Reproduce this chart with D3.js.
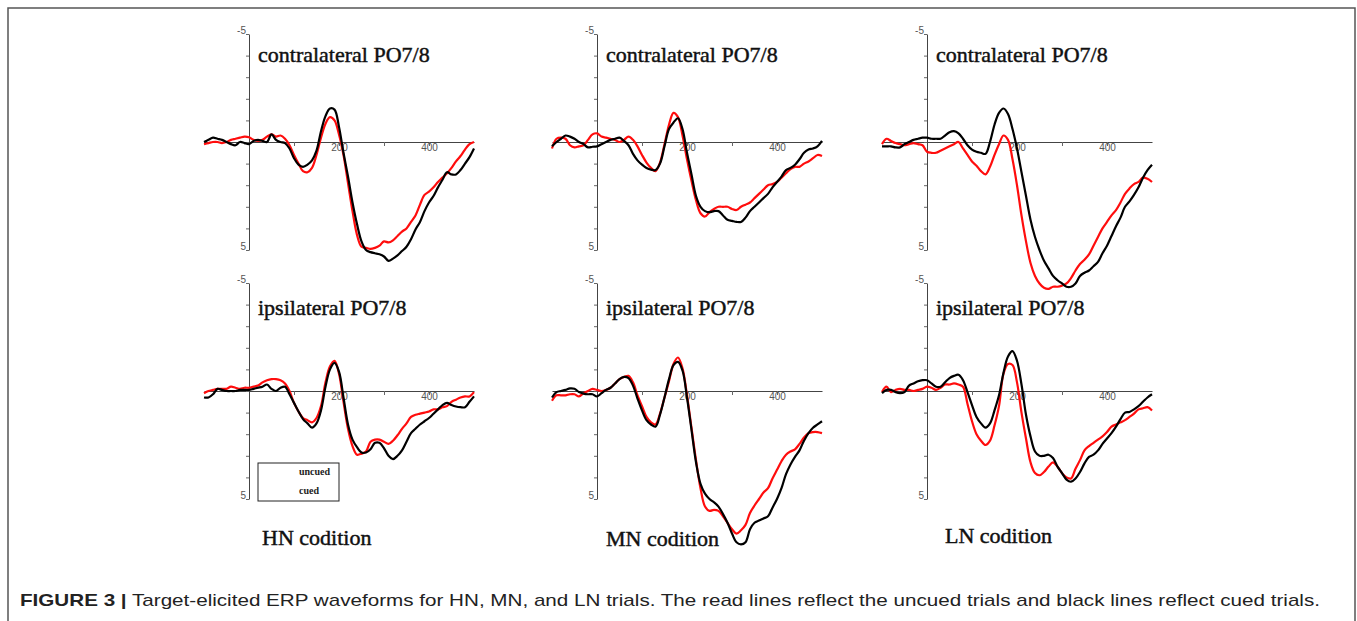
<!DOCTYPE html>
<html>
<head>
<meta charset="utf-8">
<script src="https://cdn.jsdelivr.net/npm/d3@7"></script>
<style>
  body { margin: 0; background: #fff; }
  svg { display: block; }
</style>
</head>
<body>
<div id="fig"></div>
<script>
// time points (ms) and amplitudes (uV), red = uncued, black = cued
var times = [-100,-90,-80,-70,-60,-50,-40,-30,-20,-10,0,10,20,30,40,50,60,70,80,90,100,110,120,130,140,150,160,170,180,190,200,
  210,220,230,240,250,260,270,280,290,300,310,320,330,340,350,360,370,380,390,400,410,420,430,440,450,460,470,480,490,500];

var hnContraUncued = [0.1,0.05,0,0,0.05,0,-0.1,-0.15,-0.2,-0.25,-0.22,-0.1,-0.05,-0.1,-0.25,-0.35,-0.25,-0.3,-0.15,0.15,0.6,1.0,1.35,1.4,1.2,0.6,-0.2,-0.85,-1.15,-1.0,-0.35,
  0.6,1.9,3.2,4.3,4.85,4.9,4.95,4.9,4.8,4.6,4.65,4.55,4.35,4.15,4.0,3.7,3.4,2.9,2.45,2.3,2.1,1.85,1.65,1.45,1.2,0.9,0.65,0.35,0.1,0];
var hnContraCued = [0,-0.1,-0.2,-0.15,-0.1,0,0.1,0.15,0,0.05,0.1,-0.05,-0.1,-0.05,0,-0.35,-0.1,0,0.05,0.3,0.75,1.05,1.15,1.05,0.85,0.4,-0.5,-1.2,-1.55,-1.5,-0.7,
  0.5,1.6,2.8,3.8,4.6,5.0,5.1,5.15,5.2,5.3,5.5,5.4,5.25,5.05,4.85,4.5,4.05,3.7,3.2,2.8,2.5,2.1,1.75,1.4,1.5,1.5,1.3,1.0,0.7,0.3];

var mnContraUncued = [0.3,-0.15,-0.2,-0.15,0.15,0.25,0.2,0.15,-0.1,-0.35,-0.4,-0.25,-0.2,-0.15,-0.1,0,-0.1,-0.25,-0.1,0.2,0.6,0.95,1.2,1.35,0.95,0.1,-0.8,-1.35,-1.15,-0.3,0.8,
  1.8,2.7,3.3,3.45,3.25,3.1,3.0,3.0,3.0,3.1,3.15,3.0,2.9,2.8,2.6,2.4,2.2,2.0,1.95,1.85,1.65,1.45,1.25,1.15,1.15,1.0,0.9,0.75,0.6,0.65];
var mnContraCued = [0.2,0,-0.15,-0.3,-0.25,-0.15,0,0.1,0.25,0.22,0.2,0.1,0,-0.1,-0.15,-0.2,-0.05,0.15,0.55,0.85,1.05,1.2,1.28,1.3,1.0,0.2,-0.6,-0.9,-1.1,-0.6,0.5,
  1.5,2.5,3.0,3.2,3.25,3.2,3.2,3.4,3.6,3.65,3.7,3.7,3.5,3.2,3.0,2.8,2.6,2.4,2.1,1.85,1.6,1.3,1.2,1.05,0.8,0.5,0.35,0.3,0.2,-0.05];

var lnContraUncued = [0.1,-0.15,-0.05,0.05,0.1,0.15,0.1,0.05,0.1,0.15,0.45,0.5,0.5,0.4,0.3,0.2,0.1,0,0.3,0.6,0.9,1.1,1.35,1.5,1.15,0.6,0.1,-0.3,-0.1,0.8,2.0,
  3.4,4.6,5.6,6.2,6.55,6.75,6.8,6.7,6.7,6.65,6.55,6.3,5.95,5.65,5.45,5.2,4.8,4.4,4.0,3.7,3.4,3.15,2.8,2.4,2.15,1.95,1.85,1.65,1.7,1.85];
var lnContraCued = [0.2,0.2,0.2,0.25,0.25,0.1,0,-0.1,-0.15,-0.2,-0.2,-0.15,-0.15,-0.15,-0.3,-0.45,-0.5,-0.4,-0.15,0.15,0.35,0.45,0.5,0.55,0,-0.8,-1.35,-1.55,-1.3,-0.6,0.3,
  1.4,2.5,3.6,4.4,5.0,5.5,5.85,6.2,6.4,6.55,6.7,6.7,6.55,6.2,6.05,5.95,5.75,5.55,5.15,4.8,4.35,3.9,3.5,3.0,2.75,2.45,2.1,1.65,1.3,1.05];

var hnIpsiUncued = [0.1,0,-0.05,-0.1,-0.1,-0.1,-0.2,-0.15,-0.1,-0.15,-0.15,-0.2,-0.25,-0.4,-0.5,-0.55,-0.55,-0.5,-0.35,0,0.55,0.95,1.25,1.35,1.45,1.25,0.7,-0.4,-1.15,-1.4,-0.8,
  0.5,1.75,2.55,2.95,2.9,2.8,2.35,2.25,2.25,2.35,2.45,2.3,2.05,1.75,1.5,1.2,1.1,1.05,1.0,0.95,0.85,0.85,0.75,0.7,0.5,0.4,0.3,0.25,0.25,0.05];
var hnIpsiCued = [0.3,0.3,0.15,-0.1,-0.05,0,0,0,-0.05,-0.05,-0.05,-0.1,-0.15,-0.2,-0.3,-0.1,0,-0.15,-0.2,0.15,0.55,0.95,1.3,1.5,1.7,1.5,0.9,-0.2,-1.0,-1.3,-0.9,
  0.3,1.55,2.25,2.6,2.85,2.85,2.7,2.4,2.4,2.65,3.0,3.15,3.0,2.75,2.35,1.95,1.75,1.55,1.4,1.25,1.05,0.85,0.65,0.55,0.65,0.72,0.75,0.75,0.5,0.25];

var mnIpsiUncued = [0.45,0.2,0.2,0.2,0.15,0.15,0.25,0.1,0,-0.1,-0.05,0,-0.05,-0.15,-0.35,-0.55,-0.65,-0.7,-0.4,0.2,0.7,1.2,1.45,1.55,1.05,0.3,-0.45,-1.25,-1.55,-1.05,0.2,
  1.7,3.2,4.5,5.35,5.55,5.5,5.55,5.8,6.1,6.4,6.6,6.45,6.2,5.65,5.3,5.0,4.7,4.5,4.05,3.65,3.25,2.95,2.8,2.7,2.45,2.15,1.95,1.9,1.9,1.95];
var mnIpsiCued = [0.3,0.05,0,-0.05,-0.12,-0.1,0.05,0.12,0.15,0.15,0.25,0.1,-0.05,-0.15,-0.35,-0.55,-0.65,-0.6,-0.25,0.35,0.9,1.35,1.55,1.65,1.1,0.3,-0.55,-1.2,-1.35,-0.95,0.3,
  1.8,3.3,4.3,4.75,5.0,5.15,5.35,5.7,6.1,6.6,7.0,7.1,7.0,6.4,6.1,6.0,5.9,5.8,5.4,5.0,4.5,3.85,3.4,3.05,2.75,2.3,1.95,1.7,1.55,1.4];

var lnIpsiUncued = [0.05,-0.2,0.05,-0.05,-0.1,-0.05,-0.05,0,-0.05,-0.1,-0.2,-0.15,-0.05,-0.15,-0.3,-0.3,-0.35,-0.3,-0.2,0.6,1.4,2.0,2.3,2.5,2.3,1.6,0.7,-0.8,-1.25,-1.2,-0.4,
  1.0,2.2,3.3,3.8,3.9,3.75,3.5,3.3,3.5,3.8,4.0,4.05,3.6,3.2,2.75,2.55,2.4,2.25,2.1,1.9,1.65,1.55,1.45,1.35,1.2,1.05,0.85,0.8,0.75,0.9];
var lnIpsiCued = [0.1,-0.05,-0.05,0.05,0.1,0.05,-0.25,-0.35,-0.45,-0.5,-0.5,-0.35,-0.2,-0.2,-0.4,-0.6,-0.7,-0.75,-0.5,0.05,0.65,1.2,1.5,1.7,1.5,0.9,0.2,-0.85,-1.6,-1.85,-1.4,
  -0.3,1.1,2.1,2.8,3.0,3.0,2.95,3.1,3.5,3.8,4.1,4.2,4.05,3.75,3.35,3.05,2.95,2.75,2.45,2.2,1.95,1.65,1.3,1.0,0.97,0.85,0.7,0.5,0.3,0.15];

var panelTitles = ["contralateral PO7/8", "ipsilateral PO7/8"];
var conditions = ["HN codition", "MN codition", "LN codition"];
var legendLabels = ["uncued", "cued"];
var caption = "Target-elicited ERP waveforms for HN, MN, and LN trials. The read lines reflect the uncued trials and black lines reflect cued trials.";

var panels = [
  { col: 0, row: 0, red: hnContraUncued, black: hnContraCued },
  { col: 1, row: 0, red: mnContraUncued, black: mnContraCued },
  { col: 2, row: 0, red: lnContraUncued, black: lnContraCued },
  { col: 0, row: 1, red: hnIpsiUncued, black: hnIpsiCued },
  { col: 1, row: 1, red: mnIpsiUncued, black: mnIpsiCued },
  { col: 2, row: 1, red: lnIpsiUncued, black: lnIpsiCued }
];

var width = 1357, height = 621;
var axisX = [249, 597, 927];   // x position of time 0 in each column
var rowTop = [34, 283];        // y position of -5 uV in each row
var plotH = 216;
var titleDy = [28, 32];
var condX = [262, 606, 945], condY = [545, 546, 543];

var svg = d3.select("#fig").append("svg")
  .attr("width", width)
  .attr("height", height);

// outer frame
svg.append("rect")
  .attr("x", 8).attr("y", 8)
  .attr("width", 1347).attr("height", 700)
  .attr("fill", "none")
  .attr("stroke", "#555")
  .attr("stroke-width", 1.5);

panels.forEach(function (p) {
  var ax = axisX[p.col];
  var top = rowTop[p.row];

  var x = d3.scaleLinear().domain([-100, 500]).range([ax - 45, ax + 225]);
  var y = d3.scaleLinear().domain([-5, 5]).range([top, top + plotH]);

  var g = svg.append("g");

  // time axis at 0 uV
  var xAxis = g.append("g")
    .attr("transform", "translate(0," + y(0) + ")")
    .call(d3.axisBottom(x)
      .tickValues([100, 200, 300, 400])
      .tickSize(4)
      .tickSizeOuter(0)
      .tickFormat(function (d) { return (d === 200 || d === 400) ? d : ""; }));
  xAxis.select(".domain").attr("stroke", "#444");
  xAxis.selectAll(".tick line").attr("stroke", "#666");
  xAxis.selectAll(".tick text")
    .attr("y", 2)
    .attr("fill", "#555")
    .style("font-family", "Liberation Sans, Arial, sans-serif")
    .style("font-size", "10px");

  // amplitude axis at 0 ms
  var yAxis = g.append("g")
    .attr("transform", "translate(" + ax + ",0)")
    .call(d3.axisLeft(y)
      .tickValues(d3.range(-5, 6))
      .tickSize(3)
      .tickSizeOuter(0)
      .tickFormat(function (d) { return Math.abs(d) === 5 ? d : ""; }));
  yAxis.select(".domain").attr("stroke", "#444");
  yAxis.selectAll(".tick line").attr("stroke", "#666");
  yAxis.selectAll(".tick text")
    .attr("x", -3)
    .attr("dy", "-0.05em")
    .attr("fill", "#555")
    .style("font-family", "Liberation Sans, Arial, sans-serif")
    .style("font-size", "10px");

  var line = d3.line()
    .x(function (d, i) { return x(times[i]); })
    .y(function (d) { return y(d); })
    .curve(d3.curveCatmullRom.alpha(0.5));

  g.append("path")
    .datum(p.red)
    .attr("d", line)
    .attr("fill", "none")
    .attr("stroke", "#ff0d0d")
    .attr("stroke-width", 2.2);

  g.append("path")
    .datum(p.black)
    .attr("d", line)
    .attr("fill", "none")
    .attr("stroke", "#000")
    .attr("stroke-width", 2.2);

  g.append("text")
    .attr("x", ax + 9)
    .attr("y", top + titleDy[p.row])
    .style("font-family", "Liberation Serif, Times New Roman, serif")
    .style("font-size", "22px")
    .attr("fill", "#111")
    .attr("stroke", "#111")
    .attr("stroke-width", 0.45)
    .text(panelTitles[p.row]);
});

// legend inside the HN ipsilateral panel
var legend = svg.append("g");
legend.append("rect")
  .attr("x", 258).attr("y", 463)
  .attr("width", 81).attr("height", 38)
  .attr("fill", "#fff")
  .attr("stroke", "#222")
  .attr("stroke-width", 1);
legend.selectAll("text.leg")
  .data(legendLabels)
  .enter().append("text")
  .attr("class", "leg")
  .attr("x", 299)
  .attr("y", function (d, i) { return 475 + i * 19; })
  .style("font-family", "Liberation Serif, Times New Roman, serif")
  .style("font-size", "10px")
  .style("font-weight", "bold")
  .attr("fill", "#222")
  .text(function (d) { return d; });

// condition labels
svg.selectAll("text.cond")
  .data(conditions)
  .enter().append("text")
  .attr("class", "cond")
  .attr("x", function (d, i) { return condX[i]; })
  .attr("y", function (d, i) { return condY[i]; })
  .style("font-family", "Liberation Serif, Times New Roman, serif")
  .style("font-size", "22px")
  .attr("fill", "#111")
  .attr("stroke", "#111")
  .attr("stroke-width", 0.45)
  .text(function (d) { return d; });

// caption
var cap = svg.append("text")
  .attr("x", 20)
  .attr("y", 606)
  .attr("textLength", 1300)
  .attr("lengthAdjust", "spacingAndGlyphs")
  .style("font-family", "Liberation Sans, Arial, sans-serif")
  .style("font-size", "17px")
  .attr("fill", "#222");
cap.append("tspan").style("font-weight", "bold").text("FIGURE 3 |");
cap.append("tspan").text(" " + caption);
</script>
</body>
</html>
